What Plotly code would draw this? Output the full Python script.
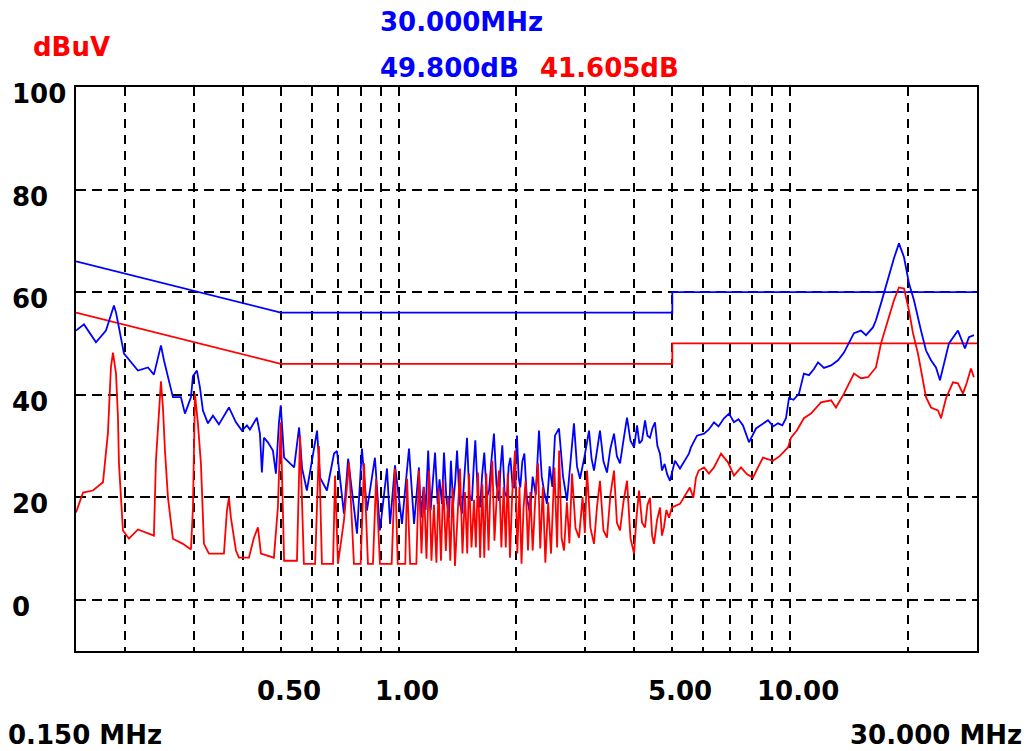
import math
import plotly.graph_objects as go

# ---------------- data ----------------
qp_freq = [
    0.1500, 0.1572, 0.1687, 0.1789, 0.1875, 0.1898, 0.1931, 0.1989, 0.2159, 0.2290,
    0.2372, 0.2472, 0.2516, 0.2652, 0.2780, 0.2847, 0.2949, 0.2984, 0.3054, 0.3109,
    0.3164, 0.3259, 0.3356, 0.3476, 0.3687, 0.3842, 0.3980, 0.4098, 0.4171, 0.4346,
    0.4424, 0.4476, 0.4529, 0.4637, 0.4775, 0.4860, 0.4946,
    0.500, 0.510, 0.525, 0.541, 0.557, 0.567, 0.583, 0.619, 0.630, 0.656,
    0.684, 0.696, 0.725, 0.743, 0.783, 0.806, 0.830, 0.870, 0.896, 0.934,
    0.951, 0.979, 1.020, 1.063, 1.095,
    1.127, 1.140, 1.158, 1.172, 1.190, 1.207, 1.225, 1.239, 1.258, 1.272,
    1.290, 1.306, 1.325, 1.345, 1.360, 1.378, 1.395, 1.410, 1.432, 1.452,
    1.472, 1.495, 1.515, 1.539, 1.555, 1.570, 1.592, 1.614, 1.635, 1.655,
    1.680, 1.702, 1.725, 1.752, 1.778, 1.805, 1.820, 1.840, 1.865, 1.891,
    1.910, 1.930, 1.955, 1.975, 2.006, 2.025, 2.045, 2.070, 2.095, 2.125,
    2.165, 2.200, 2.240, 2.283, 2.320, 2.355, 2.393, 2.430, 2.470, 2.508,
    2.568, 2.630, 2.692, 2.750, 2.804, 2.855, 2.906, 2.985, 3.064, 3.110,
    3.155, 3.210, 3.268, 3.335, 3.405, 3.475, 3.549, 3.610, 3.677, 3.750,
    3.831, 3.910, 3.993, 4.064, 4.120, 4.185, 4.259, 4.320, 4.385, 4.450,
    4.516, 4.580, 4.651, 4.706, 4.780, 4.850, 4.932, 5.079, 5.231, 5.514,
    5.580, 5.780, 6.025, 6.200, 6.389, 6.560, 6.776, 6.978, 7.186, 7.380,
    7.577, 7.700, 7.849, 8.179, 8.450, 8.776, 9.050, 9.307, 9.550, 9.757,
    9.929, 10.20, 10.53, 10.84, 11.17, 11.50, 11.78, 12.20, 12.72, 13.25,
    13.72, 14.55, 15.16, 15.62, 16.27, 16.56, 17.06, 17.77, 18.41, 18.96,
    19.53, 20.11, 20.71, 21.58, 22.23, 22.89, 23.57, 24.13, 24.71, 25.44,
    26.82, 27.29, 27.95, 28.61, 29.46,
]
qp_level = [
    52.5, 53.7, 50.2, 52.5, 57.4, 56.0, 53.1, 48.0, 44.7, 45.3,
    43.9, 49.6, 46.7, 39.5, 39.5, 36.3, 39.5, 43.6, 44.7, 41.4,
    36.9, 34.4, 35.9, 34.2, 37.5, 34.6, 33.0, 34.0, 33.2, 35.5,
    32.4, 24.8, 31.6, 30.7, 29.1, 24.6, 34.4,
    37.9, 27.7, 26.8, 25.8, 33.6, 25.6, 21.3, 33.0, 23.8, 21.3,
    28.5, 29.0, 16.8, 27.5, 12.9, 29.5, 17.4, 27.7, 13.5, 25.6,
    14.8, 26.2, 14.8, 29.5, 14.8,
    25.8, 16.0, 22.0, 17.5, 29.1, 17.4, 24.0, 28.7, 18.7, 23.5,
    18.7, 28.7, 19.5, 16.0, 27.1, 18.7, 23.0, 29.1, 19.0, 16.8,
    24.0, 31.6, 20.5, 19.3, 26.0, 31.1, 21.0, 18.0, 24.5, 28.7,
    20.0, 21.3, 27.0, 32.4, 22.5, 19.3, 25.5, 30.1, 21.0, 19.9,
    26.0, 27.7, 22.0, 21.9, 32.0, 24.0, 21.9, 27.0, 28.5, 20.0,
    16.8, 24.0, 20.5, 33.0, 24.0, 21.0, 18.7, 26.0, 22.0, 32.0,
    33.4, 24.0, 19.3, 27.0, 34.4, 26.0, 23.6, 28.0, 33.0, 27.5,
    25.2, 29.0, 33.0, 27.0, 24.8, 29.5, 32.4, 28.0, 26.6, 31.0,
    35.5, 31.0, 29.7, 34.0, 30.5, 31.1, 35.0, 32.0, 31.6, 33.5,
    34.6, 30.0, 28.5, 25.2, 26.5, 24.5, 23.2, 27.1, 25.6, 28.5,
    29.7, 32.0, 32.4, 33.2, 34.6, 33.8, 35.4, 36.3, 34.6, 35.2,
    34.0, 32.5, 30.7, 33.4, 34.2, 35.0, 33.8, 34.4, 34.0, 35.4,
    39.3, 39.0, 40.2, 44.1, 43.8, 45.0, 46.3, 45.2, 45.7, 46.7,
    48.2, 52.0, 52.5, 51.6, 53.1, 54.5, 57.8, 62.7, 66.6, 69.5,
    66.8, 61.7, 58.4, 52.5, 48.6, 46.7, 45.3, 42.8, 46.1, 50.0,
    52.5, 51.0, 49.0, 51.2, 51.6,
]

av_freq = [
    0.1500, 0.1563, 0.1657, 0.1758, 0.1810, 0.1842, 0.1864, 0.1898, 0.1920, 0.1931,
    0.1977, 0.2048, 0.2159, 0.2372, 0.2400, 0.2472, 0.2501, 0.2531, 0.2576, 0.2652,
    0.2813, 0.2949, 0.2984, 0.3019, 0.3072, 0.3127, 0.3183, 0.3278, 0.3580, 0.3644,
    0.3687, 0.3730, 0.3842, 0.3910, 0.4147, 0.4270, 0.4372, 0.4450, 0.4803, 0.4917,
    0.500, 0.510, 0.550, 0.560, 0.573, 0.612, 0.626, 0.637, 0.680, 0.688,
    0.700, 0.725, 0.747, 0.769, 0.800, 0.816, 0.835, 0.860, 0.876, 0.896,
    0.960, 0.979, 0.995, 1.040, 1.051, 1.070, 1.110,
    1.127, 1.144, 1.161, 1.178, 1.196, 1.213, 1.231, 1.249, 1.265, 1.283,
    1.300, 1.320, 1.338, 1.355, 1.374, 1.393, 1.414, 1.435, 1.456, 1.477,
    1.497, 1.513, 1.535, 1.558, 1.575, 1.595, 1.615, 1.636, 1.655, 1.675,
    1.697, 1.715, 1.735, 1.757, 1.780, 1.805, 1.830, 1.855, 1.878, 1.900,
    1.925, 1.950, 1.983, 2.010, 2.035, 2.060, 2.085, 2.110, 2.140, 2.170,
    2.200, 2.235, 2.270, 2.300, 2.335, 2.370, 2.410, 2.450, 2.500, 2.540,
    2.570, 2.608, 2.645, 2.690, 2.730, 2.772, 2.830, 2.889, 2.950, 2.990,
    3.028, 3.090, 3.155, 3.210, 3.268, 3.335, 3.405, 3.475, 3.549, 3.610,
    3.677, 3.750, 3.831, 3.910, 3.993, 4.050, 4.112, 4.185, 4.259, 4.320,
    4.385, 4.440, 4.490, 4.570, 4.651, 4.705, 4.760, 4.830, 4.904, 4.988,
    5.231, 5.543, 5.660, 5.746, 5.839,
    6.025, 6.200, 6.389, 6.658, 6.937, 7.186, 7.489, 7.750, 8.035, 8.300,
    8.521, 9.038, 9.400, 9.872, 10.05, 10.40, 10.84, 11.30, 11.99, 12.72,
    13.09, 13.72, 14.55, 15.16, 15.80, 16.56, 17.06, 17.77, 18.41, 18.96,
    19.53, 20.11, 20.59, 21.20, 21.84, 22.23, 22.89, 23.85, 24.28, 25.00,
    26.04, 26.82, 27.62, 28.28, 28.95, 29.46,
]
av_level = [
    17.0, 20.9, 21.3, 22.9, 32.6, 45.3, 48.2, 44.1, 35.5, 26.6,
    13.5, 11.9, 13.7, 12.5, 27.1, 42.6, 37.5, 29.1, 19.9, 11.9,
    10.9, 9.8, 18.0, 40.2, 34.4, 26.6, 10.9, 9.0, 9.0, 17.4,
    19.9, 16.0, 9.6, 8.2, 8.2, 12.1, 14.1, 9.0, 8.2, 18.0,
    34.6, 7.6, 7.6, 32.0, 7.0, 7.0, 30.0, 7.0, 7.0, 24.2,
    7.0, 15.4, 26.8, 7.0, 7.0, 26.6, 7.0, 7.0, 23.6, 7.0,
    7.0, 25.6, 7.0, 7.0, 23.6, 7.0, 7.0,
    25.2, 9.0, 22.0, 8.0, 25.2, 7.6, 18.5, 7.2, 21.9, 7.6,
    23.2, 9.5, 20.0, 7.6, 21.9, 6.6, 17.0, 25.6, 9.0, 21.0,
    9.0, 24.6, 10.2, 19.5, 10.2, 24.8, 8.2, 22.5, 8.2, 24.6,
    9.6, 21.0, 27.1, 11.5, 20.0, 25.2, 10.2, 22.0, 10.2, 24.6,
    8.2, 20.5, 29.1, 9.0, 22.0, 7.0, 18.0, 23.2, 9.6, 21.0,
    9.6, 20.0, 26.6, 10.0, 22.0, 7.2, 19.0, 9.0, 25.8, 10.2,
    29.1, 12.0, 9.6, 19.0, 11.0, 24.6, 14.0, 12.1, 20.0, 13.0,
    25.2, 14.0, 10.9, 18.0, 23.2, 13.5, 12.1, 20.5, 25.2, 15.0,
    13.5, 19.0, 23.2, 12.0, 9.0, 16.0, 21.3, 15.0, 14.1, 18.5,
    19.9, 12.5, 10.9, 15.5, 18.0, 12.5, 14.1, 17.5, 16.0, 18.0,
    18.7, 21.9, 19.9, 23.8, 25.2,
    25.8, 24.6, 25.8, 28.5, 26.8, 24.2, 25.8, 24.5, 23.8, 26.0,
    27.7, 27.1, 28.0, 29.7, 31.6, 33.0, 35.4, 36.3, 38.5, 38.9,
    37.5, 40.2, 44.1, 43.2, 43.4, 45.3, 50.0, 54.5, 58.4, 60.9,
    60.7, 56.4, 52.0, 48.0, 42.8, 39.5, 37.5, 36.9, 35.4, 39.3,
    42.4, 42.2, 40.2, 42.4, 45.1, 43.4,
]

qp_limit_freq = [0.15, 0.5, 5.0, 5.0, 30.0]
qp_limit_level = [66, 56, 56, 60, 60]
av_limit_freq = [0.15, 0.5, 5.0, 5.0, 30.0]
av_limit_level = [56, 46, 46, 50, 50]

x_grid = [0.2, 0.3, 0.4, 0.5, 0.6, 0.7, 0.8, 0.9, 1, 2, 3, 4, 5, 6, 7, 8, 9, 10, 20]
y_grid = [0, 20, 40, 60, 80]
y_label_vals = [100, 80, 60, 40, 20, 0]
y_labels = ["100", "80", "60", "40", "20", "0"]
x_label_vals = [0.5, 1, 5, 10]
x_labels = ["0.50", "1.00", "5.00", "10.00"]
unit_text = "dBuV"
marker_freq_text = "30.000MHz"
marker_qp_text = "49.800dB"
marker_av_text = "41.605dB"
start_text = "0.150 MHz"
stop_text = "30.000 MHz"
x_min, x_max = 0.15, 30.0
y_min, y_max = -10, 100

# ---------------- layout geometry ----------------
W, H = 1033, 751
L, R, T, B = 76, 977, 87, 651
BLUE = "#0000ff"
RED = "#ff0000"
FONT = "DejaVu Sans"
FS = 26


def px(xp):
    return (xp - L) / (R - L)


def py(yp):
    return (B - yp) / (B - T)


fig = go.Figure()
fig.add_trace(go.Scatter(x=qp_limit_freq, y=qp_limit_level, mode="lines",
                         line=dict(color=BLUE, width=1.8), hoverinfo="skip"))
fig.add_trace(go.Scatter(x=av_limit_freq, y=av_limit_level, mode="lines",
                         line=dict(color=RED, width=1.8), hoverinfo="skip"))
fig.add_trace(go.Scatter(x=qp_freq, y=qp_level, mode="lines",
                         line=dict(color=BLUE, width=1.8)))
fig.add_trace(go.Scatter(x=av_freq, y=av_level, mode="lines",
                         line=dict(color=RED, width=1.8)))

ann = []
for v, t in zip(y_label_vals, y_labels):
    ann.append(dict(xref="paper", yref="y", x=px(10), y=v, yshift=-7, text=t,
                    xanchor="left", yanchor="middle", showarrow=False,
                    font=dict(family=FONT, size=FS, color="black", weight="bold")))
for v, t in zip(x_label_vals, x_labels):
    ann.append(dict(xref="x", yref="paper", x=math.log10(v), y=py(691), xshift=8,
                    text=t, xanchor="center", yanchor="middle", showarrow=False,
                    font=dict(family=FONT, size=FS, color="black", weight="bold")))


def text_ann(t, xp, yp, color, anchor="left"):
    return dict(xref="paper", yref="paper", x=px(xp), y=py(yp), text=t,
                xanchor=anchor, yanchor="middle", showarrow=False,
                font=dict(family=FONT, size=FS, color=color, weight="bold"))


ann.append(text_ann(unit_text, 31, 47, RED))
ann.append(text_ann(marker_freq_text, 378, 22, BLUE))
ann.append(text_ann(marker_qp_text, 378, 68, BLUE))
ann.append(text_ann(marker_av_text, 538, 68, RED))
ann.append(text_ann(start_text, 6, 735, "black"))
ann.append(text_ann(stop_text, 1024, 735, "black", anchor="right"))

fig.update_layout(
    width=W, height=H,
    margin=dict(l=L, r=W - R, t=T, b=H - B, pad=0),
    paper_bgcolor="white", plot_bgcolor="white",
    showlegend=False,
    annotations=ann,
    xaxis=dict(type="log", range=[math.log10(x_min), math.log10(x_max)],
               tickvals=x_grid, showticklabels=False, ticks="",
               showgrid=True, gridcolor="black", gridwidth=2, griddash="9px,7px",
               showline=True, linecolor="black", linewidth=2, mirror=True,
               zeroline=False),
    yaxis=dict(range=[y_min, y_max], tickvals=y_grid, showticklabels=False, ticks="",
               showgrid=True, gridcolor="black", gridwidth=2, griddash="10px,6px",
               showline=True, linecolor="black", linewidth=2, mirror=True,
               zeroline=False),
)

fig.write_html("out.html", config={"displayModeBar": False},
               post_script="document.body.style.margin='0px';")
